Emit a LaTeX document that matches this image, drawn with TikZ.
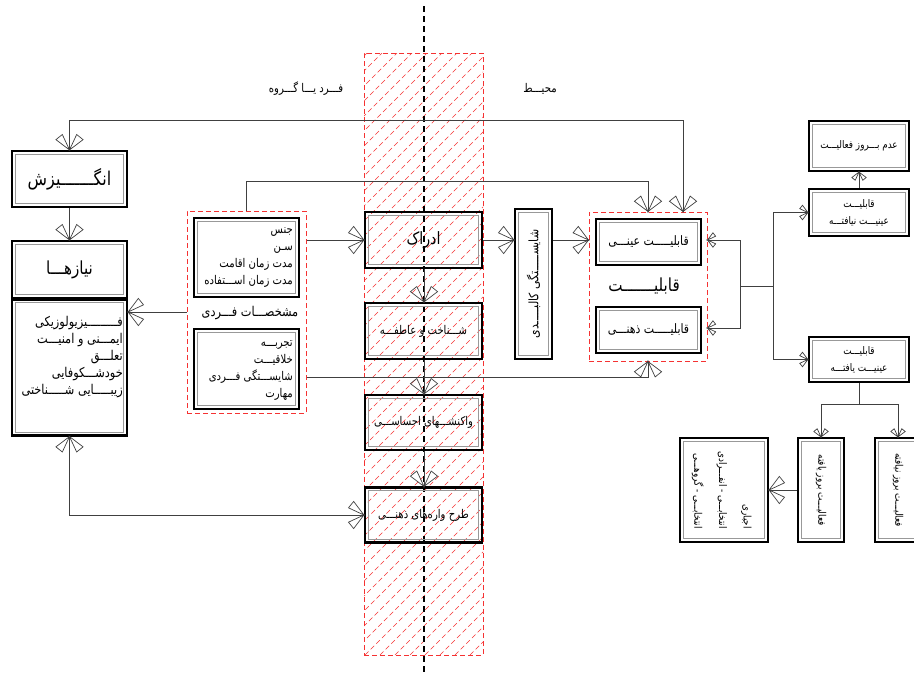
\documentclass[tikz,border=0pt]{standalone}
\usepackage{fontspec}
\setmainfont[Script=Arabic, FakeStretch=0.84]{DejaVu Sans}
\TeXXeTstate=1
\usetikzlibrary{arrows.meta}
\newcommand{\ar}[1]{\beginR#1\endR}
\definecolor{hred}{RGB}{245,50,50}
\pgfdeclarearrow{
  name = Petal,
  parameters = {\the\pgfarrowlength},
  setup code = {
    \pgfarrowssettipend{0pt}
    \pgfarrowssetlineend{0pt}
    \pgfarrowssetbackend{-\pgfarrowlength}
    \pgfarrowsupperhullpoint{-\pgfarrowlength}{0.8\pgfarrowlength}
    \pgfarrowssavethe\pgfarrowlength
  },
  drawing code = {
    \pgfsetdash{}{0pt}
    \pgfpathmoveto{\pgfpointorigin}
    \pgfpathlineto{\pgfpointpolar{155}{\pgfarrowlength}}
    \pgfpathlineto{\pgfpointpolar{127}{\pgfarrowlength}}
    \pgfpathclose
    \pgfpathmoveto{\pgfpointorigin}
    \pgfpathlineto{\pgfpointpolar{205}{\pgfarrowlength}}
    \pgfpathlineto{\pgfpointpolar{233}{\pgfarrowlength}}
    \pgfpathclose
    \pgfusepathqstroke
  },
  defaults = {length = 17pt}
}
\begin{document}
\begin{tikzpicture}[x=1pt,y=-1pt,
  box/.style={draw=black, line width=2.2pt, inner sep=0pt, align=center,
    path picture={\draw[black!40, line width=0.9pt]
      ([shift={(3.4pt,3.4pt)}]path picture bounding box.south west) rectangle
      ([shift={(-3.4pt,-3.4pt)}]path picture bounding box.north east);}},
  grp/.style={draw=hred, line width=1pt, dash pattern=on 5pt off 3pt, inner sep=0pt},
  lnk/.style={draw=black!75, line width=0.7pt},
  pbig/.style={lnk, -{Petal[length=17pt]}},
  pbig2/.style={lnk, {Petal[length=17pt]}-{Petal[length=17pt]}},
  psm/.style={lnk, -{Petal[length=9pt]}},
  psm2/.style={lnk, {Petal[length=9pt]}-{Petal[length=9pt]}},
  hatch/.style={draw=hred, line width=0.55pt, dash pattern=on 5pt off 3pt},
  txt/.style={inner sep=0pt, align=right},
  fs9/.style={font=\fontsize{10.5}{17}\selectfont},
  fs10/.style={font=\fontsize{12}{17}\selectfont},
  fs11/.style={font=\fontsize{13.5}{17}\selectfont},
]
\useasboundingbox (0,0) rectangle (914,675);

% hatched band
\begin{scope}
\clip (364,53) rectangle (483,655);
\foreach \i in {-250,-235,...,500} \draw[hatch] (\i,655) -- ++(620,-620);
\end{scope}
\node[grp, minimum width=119pt, minimum height=602pt] (band) at (423.5,354) {};
\coordinate (dtop) at (424,6);
\coordinate (dbot) at (424,672);
\draw[black, line width=1.6pt, dash pattern=on 6pt off 4pt] (dtop) -- (dbot);

% headers
\node[fs10] (hdr1) at (306,89) {\ar{فـــرد یـــا گـــروه}};
\node[fs10] (hdr2) at (540,89) {\ar{محیـــط}};

% left column
\node[box, minimum width=115pt, minimum height=56pt, font=\fontsize{19}{20}\selectfont] (angizesh) at (69.5,179) {\ar{انگـــــــیزش}};
\node[box, minimum width=115pt, minimum height=57pt, font=\fontsize{18}{20}\selectfont] (needst) at (69.5,269.5) {\ar{نیازهـــا}};
\node[box, minimum width=115pt, minimum height=136pt] (needsl) at (69.5,367.5) {};
\node[txt, fs11, anchor=east] (needstx) at (123,357) {\ar{فـــــــــیزیولوزیکی}\\ \ar{ایمـــنی و امنیـــت}\\ \ar{تعلـــق}\\ \ar{خودشـــکوفایی}\\ \ar{زیبـــــایی شـــــناختی}};

% individual characteristics group
\node[grp, minimum width=119pt, minimum height=202pt] (mgrp) at (246.5,312) {};
\node[box, minimum width=105pt, minimum height=79pt] (m1) at (246.5,257.5) {};
\node[txt, fs10, anchor=east] (m1tx) at (293,257.5) {\ar{جنس}\\ \ar{سـن}\\ \ar{مدت زمان اقامت}\\ \ar{مدت زمان اســـتفاده}};
\node[fs11] (mlabel) at (250,313) {\ar{مشخصـــات فـــردی}};
\node[box, minimum width=105pt, minimum height=80pt] (m2) at (246.5,369) {};
\node[txt, fs10, anchor=east] (m2tx) at (293,370.5) {\ar{تجربـــه}\\ \ar{خلاقیـــت}\\ \ar{شایســـتگی فـــردی}\\ \ar{مهارت}};

% centre column
\node[box, minimum width=117pt, minimum height=56pt, font=\fontsize{17}{20}\selectfont] (idrak) at (423.5,240) {\ar{ادراک}};
\node[box, minimum width=117pt, minimum height=56pt, fs10] (shenakht) at (423.5,331) {\ar{شـــناخت و عاطفـــه}};
\node[box, minimum width=117pt, minimum height=55pt, fs10] (vakonesh) at (423.5,422.5) {\ar{واکنشـــهای احساســـی}};
\node[box, minimum width=117pt, minimum height=55pt, fs10] (tarh) at (423.5,515) {\ar{طرح واره‌های ذهنـــی}};

% physical competence
\node[box, minimum width=37pt, minimum height=150pt, font=\fontsize{13}{17}\selectfont] (shay) at (533.5,284) {\rotatebox{90}{\ar{شایســـــتگی کالبـــــدی}}};

% ability group
\node[grp, minimum width=118pt, minimum height=149pt] (qgrp) at (648,286.5) {};
\node[box, minimum width=105pt, minimum height=46pt, font=\fontsize{13}{17}\selectfont] (qe) at (648.5,242) {\ar{قابلیـــــت عینـــی}};
\node[font=\fontsize{18}{20}\selectfont] (qlabel) at (644,286) {\ar{قابلیـــــــت}};
\node[box, minimum width=105pt, minimum height=46pt, font=\fontsize{13}{17}\selectfont] (qz) at (648.5,330) {\ar{قابلیـــــت ذهنـــی}};

% right side
\node[box, minimum width=100pt, minimum height=50pt, fs9] (adam) at (859,146) {\ar{عدم بـــروز فعالیـــت}};
\node[box, minimum width=100pt, minimum height=47pt, fs9] (nayafte) at (859,212.5) {\ar{قابلیـــت}\\ \ar{عینیـــت نیافتـــه}};
\node[box, minimum width=100pt, minimum height=45pt, fs9] (yafte) at (859,359.5) {\ar{قابلیـــت}\\ \ar{عینیـــت یافتـــه}};
\node[box, minimum width=46pt, minimum height=104pt, fs9] (fb) at (821,490) {\rotatebox{-90}{\ar{فعالیـــت بروز یافته}}};
\node[box, minimum width=46pt, minimum height=104pt, fs9] (fn) at (898,490) {\rotatebox{-90}{\ar{فعالیـــت بروز نیافته}}};
\node[box, minimum width=88pt, minimum height=104pt, fs9] (opts) at (724,490) {\rotatebox{-90}{\def\arraystretch{1.45}\begin{tabular}{@{}r@{}}\ar{اجباری}\\ \ar{انتخابـــی - انفـــرادی}\\ \ar{انتخابـــی - گروهـــی}\end{tabular}}};

% connectors
\coordinate (j2) at (683,120);
\coordinate (j3) at (648,181);
\coordinate (j4) at (648,377);
\coordinate (k1) at (740,240);
\coordinate (k2) at (740,328);
\coordinate (k3) at (740,286);
\coordinate (k4) at (773,286);
\coordinate (b1) at (859,404);

\draw[pbig2] (angizesh.north) |- (j2) -- (qgrp.north -| j2);
\draw[pbig] (mgrp.north) |- (j3) -- (qgrp.north -| j3);
\draw[pbig] (angizesh.south) -- (needst.north);
\draw[pbig] (mgrp.west) -- (mgrp.west -| needsl.east);
\draw[pbig2] (needsl.south) |- (tarh.west);
\draw[pbig] (mgrp.east |- idrak.west) -- (idrak.west);
\draw[pbig] (mgrp.east |- j4) -- (j4) -- (qgrp.south -| j4);
\draw[pbig] (idrak.south -| dtop) -- (shenakht.north -| dtop);
\draw[pbig] (shenakht.south -| dtop) -- (vakonesh.north -| dtop);
\draw[pbig] (vakonesh.south -| dtop) -- (tarh.north -| dtop);
\draw[pbig] (idrak.east) -- (idrak.east -| shay.west);
\draw[pbig] (shay.east |- idrak.east) -- (qgrp.west |- idrak.east);
\draw[psm2] (qgrp.east |- k1) -- (k1) -- (k2) -- (qgrp.east |- k2);
\draw[lnk] (k3) -- (k4);
\draw[psm] (k4) |- (nayafte.west);
\draw[psm] (k4) |- (yafte.west);
\draw[psm] (nayafte.north) -- (adam.south);
\draw[lnk] (yafte.south) -- (b1);
\draw[psm] (b1) -| (fb.north);
\draw[psm] (b1) -| (fn.north);
\draw[pbig] (fb.west) -- (opts.east);
\end{tikzpicture}
\end{document}
